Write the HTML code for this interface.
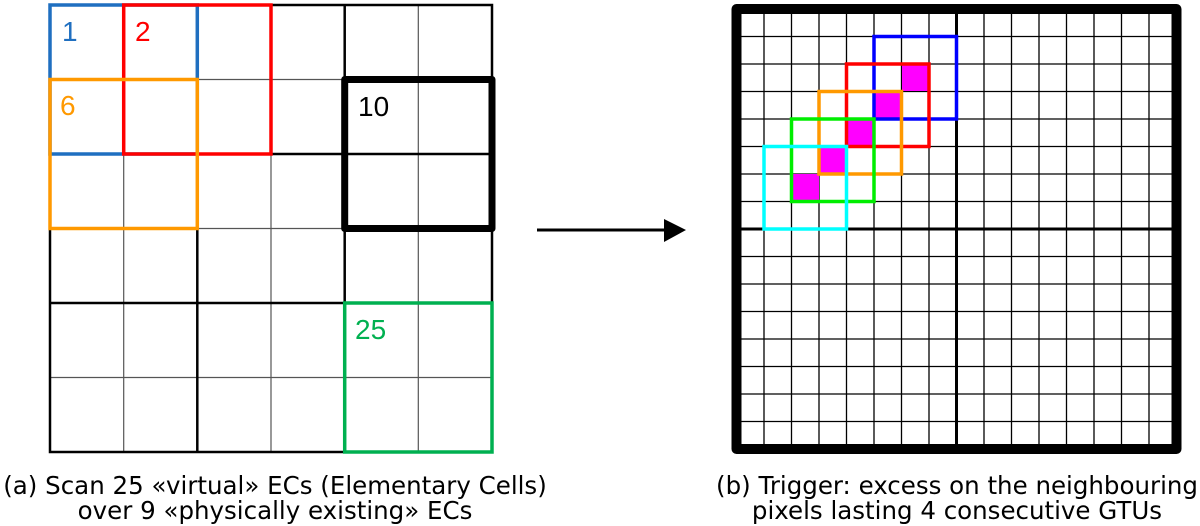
<!DOCTYPE html>
<html><head><meta charset="utf-8"><style>
html,body{margin:0;padding:0;background:#fff;width:1200px;height:526px;overflow:hidden}
</style></head><body>
<svg width="1200" height="526" viewBox="0 0 1200 526" xmlns="http://www.w3.org/2000/svg">
<rect width="1200" height="526" fill="#fff"/>
<g stroke="#555" stroke-width="1.2">
<line x1="123.7" y1="5" x2="123.7" y2="452"/>
<line x1="271" y1="5" x2="271" y2="452"/>
<line x1="418.3" y1="5" x2="418.3" y2="452"/>
<line x1="50" y1="79.5" x2="492" y2="79.5"/>
<line x1="50" y1="228.5" x2="492" y2="228.5"/>
<line x1="50" y1="377.5" x2="492" y2="377.5"/>
</g>
<g stroke="#000" stroke-width="2.5" fill="none">
<line x1="197.3" y1="5" x2="197.3" y2="452"/>
<line x1="344.7" y1="5" x2="344.7" y2="452"/>
<line x1="50" y1="154" x2="492" y2="154"/>
<line x1="50" y1="303" x2="492" y2="303"/>
<rect x="50" y="5" width="442" height="447"/>
</g>
<rect x="50" y="5" width="147.3" height="149" fill="none" stroke="#1f6fc0" stroke-width="3.5"/>
<rect x="123.7" y="5" width="147.3" height="149" fill="none" stroke="#ff0000" stroke-width="3.5"/>
<rect x="50" y="79.5" width="147.3" height="149" fill="none" stroke="#ff9900" stroke-width="3.5"/>
<rect x="344.7" y="79.5" width="147.3" height="149" fill="none" stroke="#000" stroke-width="7" stroke-linejoin="round"/>
<rect x="344.7" y="303" width="147.3" height="149" fill="none" stroke="#00b050" stroke-width="3.5"/>
<g font-family="Liberation Sans, sans-serif" font-size="28">
<text x="62" y="41" fill="#1f6fc0">1</text>
<text x="135" y="41" fill="#ff0000">2</text>
<text x="60" y="115" fill="#ff9900">6</text>
<text x="358" y="116" fill="#000">10</text>
<text x="355" y="339" fill="#00b050">25</text>
</g>
<line x1="537" y1="230" x2="668" y2="230" stroke="#000" stroke-width="3"/>
<polygon points="664,219 686,230 664,242" fill="#000"/>
<g stroke="#000" stroke-width="1.3">
<line x1="764" y1="9" x2="764" y2="449"/><line x1="791.5" y1="9" x2="791.5" y2="449"/><line x1="819" y1="9" x2="819" y2="449"/><line x1="846.5" y1="9" x2="846.5" y2="449"/><line x1="874" y1="9" x2="874" y2="449"/><line x1="901.5" y1="9" x2="901.5" y2="449"/><line x1="929" y1="9" x2="929" y2="449"/><line x1="984" y1="9" x2="984" y2="449"/><line x1="1011.5" y1="9" x2="1011.5" y2="449"/><line x1="1039" y1="9" x2="1039" y2="449"/><line x1="1066.5" y1="9" x2="1066.5" y2="449"/><line x1="1094" y1="9" x2="1094" y2="449"/><line x1="1121.5" y1="9" x2="1121.5" y2="449"/><line x1="1149" y1="9" x2="1149" y2="449"/>
<line x1="736" y1="36.5" x2="1177" y2="36.5"/><line x1="736" y1="64" x2="1177" y2="64"/><line x1="736" y1="91.5" x2="1177" y2="91.5"/><line x1="736" y1="119" x2="1177" y2="119"/><line x1="736" y1="146.5" x2="1177" y2="146.5"/><line x1="736" y1="174" x2="1177" y2="174"/><line x1="736" y1="201.5" x2="1177" y2="201.5"/><line x1="736" y1="256.5" x2="1177" y2="256.5"/><line x1="736" y1="284" x2="1177" y2="284"/><line x1="736" y1="311.5" x2="1177" y2="311.5"/><line x1="736" y1="339" x2="1177" y2="339"/><line x1="736" y1="366.5" x2="1177" y2="366.5"/><line x1="736" y1="394" x2="1177" y2="394"/><line x1="736" y1="421.5" x2="1177" y2="421.5"/>
</g>
<line x1="956.5" y1="9" x2="956.5" y2="449" stroke="#000" stroke-width="3"/>
<line x1="736" y1="229" x2="1177" y2="229" stroke="#000" stroke-width="3"/>
<g fill="#ff00ff">
<rect x="902" y="64" width="27" height="27"/>
<rect x="874.5" y="91.5" width="27" height="27"/>
<rect x="847" y="119" width="27" height="27"/>
<rect x="819.5" y="146.5" width="27" height="27"/>
<rect x="792" y="174" width="27" height="27"/>
</g>
<g fill="none" stroke-width="3.5">
<rect x="874" y="36.5" width="82.5" height="82.5" stroke="#0000ff"/>
<rect x="846.5" y="64" width="82.5" height="82.5" stroke="#ff0000"/>
<rect x="819" y="91.5" width="82.5" height="82.5" stroke="#ff9900"/>
<rect x="791.5" y="119" width="82.5" height="82.5" stroke="#00ee00"/>
<rect x="764" y="146.5" width="82.5" height="82.5" stroke="#00ffff"/>
</g>
<rect x="736.5" y="9" width="440" height="440" fill="none" stroke="#000" stroke-width="10" stroke-linejoin="round"/>
<g font-family="DejaVu Sans, sans-serif" font-size="24.5" fill="#000" text-anchor="middle">
<text x="275" y="494">(a) Scan 25 «virtual» ECs (Elementary Cells)</text>
<text x="275" y="519">over 9 «physically existing» ECs</text>
<text x="957" y="494">(b) Trigger: excess on the neighbouring</text>
<text x="957" y="519">pixels lasting 4 consecutive GTUs</text>
</g>
</svg>
</body></html>
